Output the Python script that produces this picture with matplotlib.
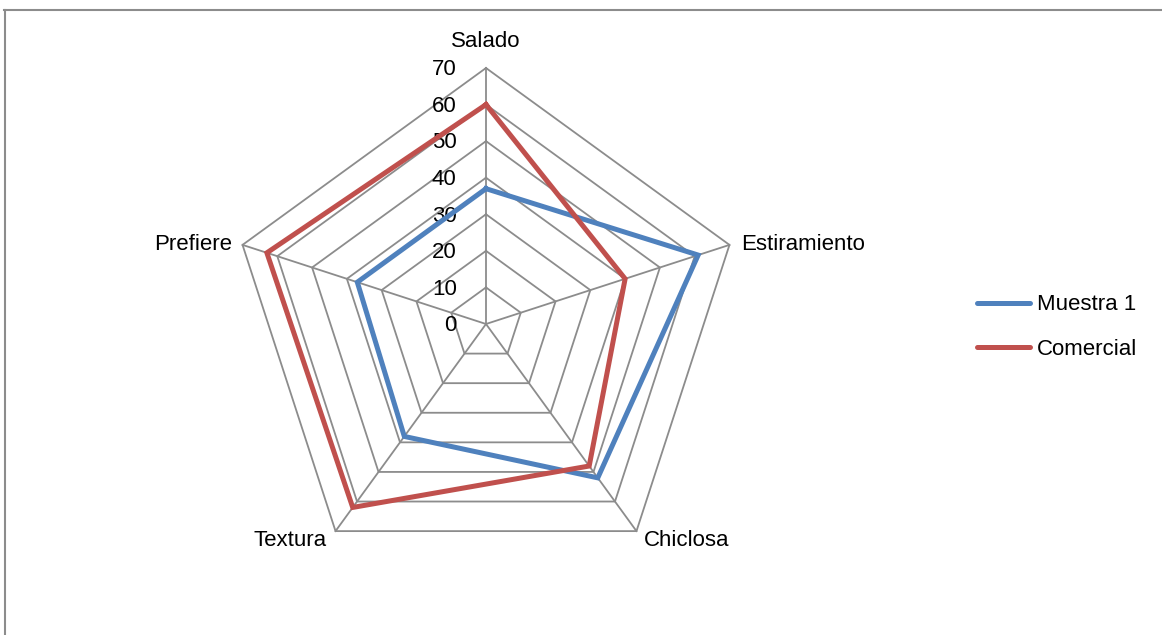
import numpy as np
import matplotlib.pyplot as plt
import matplotlib as mpl
from matplotlib.lines import Line2D

mpl.rc('font', family=['Liberation Sans', 'DejaVu Sans'])

# data
categories = ['Salado', 'Estiramiento', 'Chiclosa', 'Textura', 'Prefiere']
muestra1 = [37, 61, 52, 38, 37]
comercial = [60, 40, 48, 62, 63]
ticks = [0, 10, 20, 30, 40, 50, 60, 70]

blue = '#4F81BD'
red = '#C0504D'
grid = '#8C8C8C'

W, H = 1162, 635
fig = plt.figure(figsize=(W / 100, H / 100), dpi=100)

# axes placed so the centre lands at (486, 324) px, radius 70 -> 256 px
L = 80
side = 2 * 256 * L / 70
cx, cy = 486, 324
ax = fig.add_axes([(cx - side / 2) / W, (H - cy - side / 2) / H, side / W, side / H])
ax.set_xlim(-L, L)
ax.set_ylim(-L, L)
ax.set_aspect('equal')
ax.axis('off')

n = len(categories)
ang = np.pi / 2 - 2 * np.pi * np.arange(n) / n
ux, uy = np.cos(ang), np.sin(ang)

# polygon grid rings
for t in ticks[1:]:
    ax.plot(np.append(ux, ux[0]) * t, np.append(uy, uy[0]) * t, color=grid, lw=1.3, zorder=1)
# spokes
rmax = ticks[-1]
for i in range(n):
    ax.plot([0, ux[i] * rmax], [0, uy[i] * rmax], color=grid, lw=1.3, zorder=1)

# tick labels along the top spoke
for t in ticks:
    ax.text(-8.0, t - 0.5, str(t), ha='right', va='center', fontsize=16, zorder=3)

# series
for vals, col in [(muestra1, blue), (comercial, red)]:
    v = np.array(vals + vals[:1], dtype=float)
    ax.plot(v * np.append(ux, ux[0]), v * np.append(uy, uy[0]), color=col, lw=3.6,
            solid_joinstyle='miter', zorder=4)

# category labels
lab_pos = [
    (0, 77.2, 'center', 'center'),
    (ux[1] * rmax + 3.3, uy[1] * rmax, 'left', 'center'),
    (ux[2] * rmax + 2.0, uy[2] * rmax - 2.5, 'left', 'center'),
    (ux[3] * rmax - 2.3, uy[3] * rmax - 2.5, 'right', 'center'),
    (ux[4] * rmax - 2.8, uy[4] * rmax, 'right', 'center'),
]
for name, (x, y, ha, va) in zip(categories, lab_pos):
    ax.text(x, y, name, ha=ha, va=va, fontsize=16, clip_on=False)

# legend
handles = [Line2D([], [], color=blue, lw=3.6, solid_capstyle='round'),
           Line2D([], [], color=red, lw=3.6, solid_capstyle='round')]
fig.legend(handles, ['Muestra 1', 'Comercial'], loc='center left',
           bbox_to_anchor=(957 / W, 1 - 327 / H), frameon=False, fontsize=16,
           handlelength=2.4, handletextpad=0.3, labelspacing=1.05)

# outer chart frame
fig.add_artist(Line2D([4 / W, 1], [1 - 10 / H, 1 - 10 / H], color='#8C8C8C', lw=1.5,
                      transform=fig.transFigure))
fig.add_artist(Line2D([5 / W, 5 / W], [0, 1 - 10 / H], color='#8C8C8C', lw=1.5,
                      transform=fig.transFigure))

fig.savefig('out.png', dpi=100, facecolor='white')
